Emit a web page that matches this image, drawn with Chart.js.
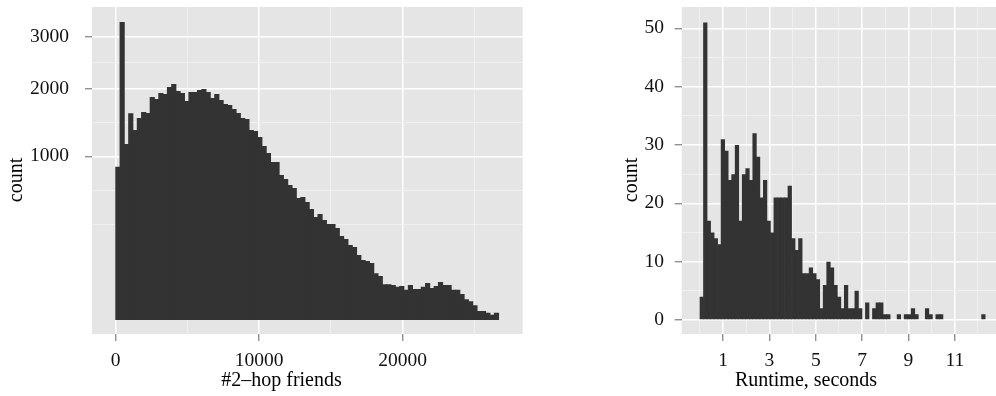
<!DOCTYPE html>
<html>
<head>
<meta charset="utf-8">
<script src="https://cdn.jsdelivr.net/npm/chart.js@4.4.1/dist/chart.umd.min.js"></script>
<style>
  html, body { margin: 0; padding: 0; background: #ffffff; width: 996px; height: 396px; overflow: hidden; }
  canvas { position: absolute; top: 0; display: block; }
  #friends { left: 0; }
  #runtime { left: 540px; }
</style>
</head>
<body>
<canvas id="friends" width="540" height="396"></canvas>
<canvas id="runtime" width="456" height="396"></canvas>
<script>
// ---- Histogram of #2-hop friends (bins of 300, starting at 0) ----
const friendBinWidth = 300;
const friendCounts = [
  877, 3316, 1157, 1595, 1348, 1524, 1615, 1600, 1857, 1824,
  1924, 1907, 2027, 2080, 1958, 1924, 1791, 1941, 1941, 1975,
  1993, 1941, 1840, 1907, 1807, 1742, 1726, 1662, 1600, 1524,
  1509, 1348, 1334, 1250, 1130, 1041, 932, 932, 785, 742,
  681, 651, 556, 565, 520, 460, 396, 420, 373, 344,
  344, 316, 263, 245, 210, 199, 158, 134, 130, 121,
  82, 72, 48, 48, 46, 41, 43, 34, 46, 36,
  36, 41, 51, 38, 43, 54, 46, 46, 34, 34,
  25, 16, 13, 8, 3, 3, 2, 1, 2
];
const friendMajorTicks = [0, 10000, 20000];
const friendMinorTicks = [5000, 15000, 25000];
const friendCountMajorTicks = [1000, 2000, 3000];
const friendCountMinorTicks = [343, 628, 1457, 2475];

// ---- Histogram of runtime in seconds (bins of 0.152 s, starting at 0) ----
const runtimeBinWidth = 0.152;
const runtimeCounts = [
  4, 51, 17, 15, 14, 13, 31, 29, 24, 25,
  30, 17, 25, 26, 24, 32, 28, 21, 24, 17,
  15, 21, 21, 21, 21, 23, 14, 12, 14, 8,
  8, 9, 8, 7, 2, 6, 10, 9, 6, 4,
  2, 6, 2, 2, 5, 2, 0, 3, 0, 2,
  3, 3, 1, 1, 0, 0, 1, 0, 1, 1,
  2, 1, 0, 0, 2, 1, 0, 1, 1, 0,
  0, 0, 0, 0, 0, 0, 0, 0, 0, 0,
  1
];
const runtimeMajorTicks = [1, 3, 5, 7, 9, 11];
const runtimeMinorTicks = [0, 2, 4, 6, 8, 10, 12];
const runtimeCountMajorTicks = [0, 10, 20, 30, 40, 50];
const runtimeCountMinorTicks = [5, 15, 25, 35, 45];

// Square-root scale (signed so the padded range can dip below zero)
class SqrtScale extends Chart.LinearScale {
  tf(v) { return Math.sign(v) * Math.sqrt(Math.abs(v)); }
  itf(t) { return Math.sign(t) * t * t; }
  getPixelForValue(value) {
    const a = this.tf(this.min), b = this.tf(this.max);
    return this.getPixelForDecimal((this.tf(value) - a) / (b - a));
  }
  getValueForPixel(pixel) {
    const a = this.tf(this.min), b = this.tf(this.max);
    return this.itf(a + this.getDecimalForPixel(pixel) * (b - a));
  }
}
SqrtScale.id = 'sqrt';
SqrtScale.defaults = { ticks: { callback: v => String(v) } };
Chart.register(SqrtScale);

const FONT = 'Liberation Serif';
const PANEL = '#E5E5E5';
const BAR = '#333333';

const panelBackground = {
  id: 'panelBackground',
  beforeDraw(chart) {
    const { ctx, chartArea: a } = chart;
    ctx.save();
    ctx.fillStyle = PANEL;
    ctx.fillRect(a.left, a.top, a.right - a.left, a.bottom - a.top);
    ctx.restore();
  }
};

const axisTitles = {
  id: 'axisTitles',
  afterDraw(chart, args, opts) {
    const ctx = chart.ctx;
    ctx.save();
    ctx.fillStyle = '#000000';
    ctx.font = '20px "' + FONT + '"';
    ctx.textAlign = 'center';
    ctx.textBaseline = 'alphabetic';
    ctx.fillText(opts.xText, opts.xCenter, opts.xBaseline);
    ctx.translate(opts.yBaseline, opts.yCenter);
    ctx.rotate(-Math.PI / 2);
    ctx.fillText(opts.yText, 0, 0);
    ctx.restore();
  }
};

// one bar per non-empty bin, centred on the bin
function binPoints(counts, width) {
  return counts
    .map((c, i) => ({ x: (i + 0.5) * width, y: c }))
    .filter(p => p.y > 0);
}

function axis(type, min, max, major, minor, opts) {
  const majorSet = new Set(major);
  const isMajor = ctx => ctx.tick && majorSet.has(ctx.tick.value);
  return {
    type, min, max,
    offset: false,
    border: { display: false },
    grid: {
      offset: false,
      color: ctx => isMajor(ctx) ? '#FFFFFF' : '#F2F2F2',
      lineWidth: ctx => isMajor(ctx) ? 1.5 : 0.8,
      drawTicks: true,
      tickLength: 7,
      tickWidth: 1.2,
      tickColor: ctx => isMajor(ctx) ? '#7F7F7F' : 'rgba(0,0,0,0)'
    },
    afterBuildTicks: scale => {
      scale.ticks = [...major, ...minor].sort((a, b) => a - b).map(v => ({ value: v }));
    },
    afterFit: scale => {
      if (opts.width !== undefined) scale.width = opts.width;
      if (opts.height !== undefined) scale.height = opts.height;
      scale.paddingLeft = 0; scale.paddingRight = 0;
      scale.paddingTop = 0; scale.paddingBottom = 0;
    },
    ticks: {
      autoSkip: false,
      maxRotation: 0,
      minRotation: 0,
      padding: opts.padding,
      color: '#111111',
      font: { family: FONT, size: 19.5 },
      callback: v => majorSet.has(v) ? String(v) : ''
    }
  };
}

function histogram(canvasId, points, xScale, yScale, padding, titles, overlap) {
  return new Chart(document.getElementById(canvasId), {
    type: 'bar',
    data: {
      datasets: [{
        data: points,
        backgroundColor: BAR,
        borderWidth: 0,
        // slight overlap so neighbouring bins join without hairline seams
        barPercentage: overlap,
        categoryPercentage: 1,
        grouped: false
      }]
    },
    options: {
      responsive: false,
      animation: false,
      devicePixelRatio: 1,
      layout: { padding },
      scales: { x: xScale, y: yScale },
      plugins: {
        legend: { display: false },
        tooltip: { enabled: false },
        axisTitles: titles
      }
    },
    plugins: [panelBackground, axisTitles]
  });
}

histogram('friends',
  binPoints(friendCounts, friendBinWidth),
  axis('linear', -1653, 28380, friendMajorTicks, friendMinorTicks, { height: 62, padding: 8 }),
  axis('sqrt', -7.32, 3658, friendCountMajorTicks, friendCountMinorTicks, { width: 92, padding: 16 }),
  { top: 7, right: 17.3, left: 0, bottom: 0 },
  { xText: '#2–hop friends', xCenter: 281.5, xBaseline: 386,
    yText: 'count', yCenter: 180, yBaseline: 21.6 },
  1.2);

histogram('runtime',
  binPoints(runtimeCounts, runtimeBinWidth),
  axis('linear', -0.79, 12.78, runtimeMajorTicks, runtimeMinorTicks, { height: 62, padding: 8 }),
  axis('linear', -2.4, 53.65, runtimeCountMajorTicks, runtimeCountMinorTicks, { width: 141.7, padding: 10.7 }),
  { top: 7, right: 0, left: 0, bottom: 0 },
  { xText: 'Runtime, seconds', xCenter: 266, xBaseline: 386,
    yText: 'count', yCenter: 180, yBaseline: 96.6 },
  1.2);
</script>
</body>
</html>
